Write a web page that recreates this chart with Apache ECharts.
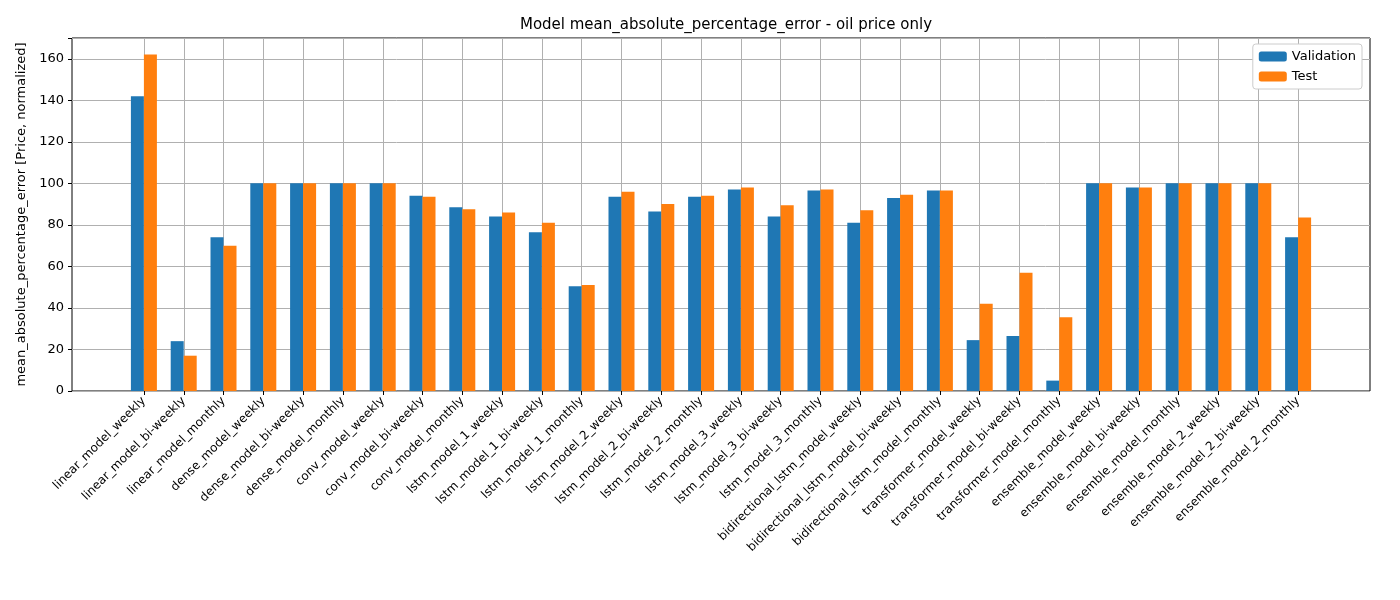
<!DOCTYPE html>
<html><head><meta charset="utf-8">
<script src="https://cdn.jsdelivr.net/npm/echarts@6/dist/echarts.min.js"></script>
<style>body{margin:0}#c{width:1400px;height:600px}</style></head>
<body><div id="c"></div>
<script>
const categories = ["linear_model_weekly","linear_model_bi-weekly","linear_model_monthly","dense_model_weekly","dense_model_bi-weekly","dense_model_monthly","conv_model_weekly","conv_model_bi-weekly","conv_model_monthly","lstm_model_1_weekly","lstm_model_1_bi-weekly","lstm_model_1_monthly","lstm_model_2_weekly","lstm_model_2_bi-weekly","lstm_model_2_monthly","lstm_model_3_weekly","lstm_model_3_bi-weekly","lstm_model_3_monthly","bidirectional_lstm_model_weekly","bidirectional_lstm_model_bi-weekly","bidirectional_lstm_model_monthly","transformer_model_weekly","transformer_model_bi-weekly","transformer_model_monthly","ensemble_model_weekly","ensemble_model_bi-weekly","ensemble_model_monthly","ensemble_model_2_weekly","ensemble_model_2_bi-weekly","ensemble_model_2_monthly"];
const validation = [142,24,74,100,100,100,100,94,88.5,84,76.5,50.5,93.5,86.5,93.5,97,84,96.5,81,93,96.5,24.5,26.5,5,100,98,100,100,100,74];
const test = [162,17,70,100,100,100,100,93.5,87.5,86,81,51,96,90,94,98,89.5,97,87,94.5,96.5,42,57,35.5,100,98,100,100,100,83.5];
const yTicks = {min:0,max:170,interval:20};
const chart = echarts.init(document.getElementById('c'));
const F = 'DejaVu Sans';
chart.setOption({
  animation:false,
  textStyle:{fontFamily:F},
  title:{text:'Model mean_absolute_percentage_error - oil price only',left:721,top:13,textAlign:'center',textStyle:{fontFamily:F,fontSize:15,fontWeight:'normal',color:'#000'}},
  legend:{right:38,top:44,orient:'vertical',itemWidth:28,itemHeight:10,itemGap:7,itemStyle:{borderRadius:0},backgroundColor:'#fff',borderColor:'#ccc',borderWidth:1,borderRadius:3,padding:[6,6,6,6],textStyle:{fontFamily:F,fontSize:13,color:'#000'},data:['Validation','Test']},
  grid:[{left:72,right:30,top:38,bottom:209,show:true,borderColor:'#000',borderWidth:1,backgroundColor:'transparent'},
        {left:124,right:82,top:38,bottom:209},
        {left:144,right:102,top:38,bottom:209}],
  xAxis:[{gridIndex:0,type:'value',min:0,max:1,show:false},
    {gridIndex:1,type:'category',data:categories,axisLine:{show:false},
     axisTick:{show:false},splitLine:{show:false},
     axisLabel:{interval:0,rotate:45,fontFamily:F,fontSize:12,color:'#000',margin:8}},
    {gridIndex:2,type:'category',data:categories,boundaryGap:false,axisLine:{show:false},
     axisTick:{show:true,interval:0,length:4,lineStyle:{color:'#000'}},
     splitLine:{show:true,interval:0,lineStyle:{color:'#b0b0b0'}},
     axisLabel:{show:false}}],
  yAxis:[{gridIndex:0,type:'value',min:yTicks.min,max:yTicks.max,interval:yTicks.interval,
     name:'mean_absolute_percentage_error [Price, normalized]',nameLocation:'middle',nameGap:42,nameTextStyle:{fontFamily:F,fontSize:13,color:'#000'},
     axisLine:{show:false},axisTick:{show:true,length:4,lineStyle:{color:'#000'}},
     axisLabel:{fontFamily:F,fontSize:13,color:'#000',formatter:v=>v>165?'':v},
     splitLine:{lineStyle:{color:'#b0b0b0'}}},
    {gridIndex:1,type:'value',min:yTicks.min,max:yTicks.max,show:false},
    {gridIndex:2,type:'value',min:yTicks.min,max:yTicks.max,show:false}],
  series:[
    {name:'Validation',type:'bar',xAxisIndex:1,yAxisIndex:1,data:validation,barWidth:13,barGap:'0%',itemStyle:{color:'#1f77b4'}},
    {name:'Test',type:'bar',xAxisIndex:1,yAxisIndex:1,data:test,barWidth:13,barGap:'0%',itemStyle:{color:'#ff7f0e'}}
  ]
});
</script></body></html>
